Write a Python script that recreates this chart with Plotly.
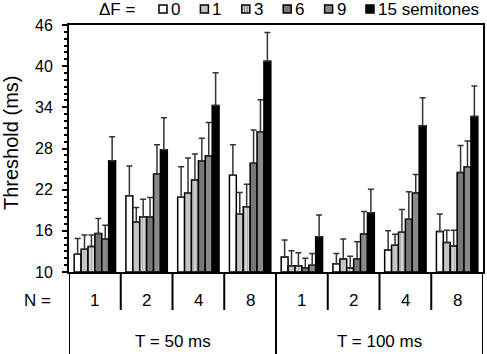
import plotly.graph_objects as go

# ---------------- data ----------------
n_labels = ["1", "2", "4", "8", "1", "2", "4", "8"]
t_labels = ["T = 50 ms", "T = 100 ms"]
series_names = ["0", "1", "3", "6", "9", "15 semitones"]

df0 = [12.6, 21.1, 20.9, 24.1, 12.2, 11.2, 13.2, 15.9]
df1 = [13.3, 17.3, 21.5, 18.4, 10.9, 11.9, 13.9, 14.3]
df3 = [13.7, 18.05, 23.4, 19.5, 10.9, 10.6, 15.8, 13.8]
df6 = [15.6, 18.0, 26.2, 25.85, 10.6, 11.9, 17.7, 24.5]
df9 = [14.8, 24.3, 26.95, 30.45, 11.0, 15.55, 21.5, 25.35]
df15 = [26.2, 27.8, 34.25, 40.7, 15.15, 18.65, 31.3, 32.65]

err0 = [2.3, 4.35, 4.45, 4.45, 2.45, 1.5, 2.8, 2.55]
err1 = [2.1, 2.1, 5.1, 3.2, 2.2, 2.9, 1.6, 1.8]
err3 = [1.7, 2.55, 3.8, 3.3, 1.9, 1.7, 3.3, 2.3]
err6 = [2.2, 2.85, 3.3, 4.85, 1.4, 2.5, 4.0, 3.95]
err9 = [2.0, 4.25, 4.85, 4.65, 1.7, 3.25, 2.7, 3.75]
err15 = [3.5, 4.7, 4.8, 4.2, 3.15, 3.4, 4.1, 4.45]

y_ticks = [10, 16, 22, 28, 34, 40, 46]

# ---------------- styling ----------------
values = [df0, df1, df3, df6, df9, df15]
errors = [err0, err1, err3, err6, err9, err15]
fills = ["#ffffff", "#c4c4c4", "#d2d2d2", "#777777", "#8a8a8a", "#000000"]
patterns = [None, None, "|", None, None, None]

FONT = "Liberation Sans, Arial, sans-serif"
W, H = 487, 354
ML, MR, MT, MB = 69, 4, 25, 82
PW, PH = W - ML - MR, H - MT - MB


def px_x(px):
    return (px - ML) / PW


def px_y(py):
    return (H - MB - py) / PH


def txt(text, x, y, xref="paper", size=17, xanchor="center", angle=0):
    return dict(text=text, xref=xref, yref="paper", x=x, y=y,
                xanchor=xanchor, yanchor="middle", textangle=angle,
                showarrow=False, borderpad=0,
                font=dict(size=size, family=FONT, color="black"))


xpos = list(range(len(n_labels)))

fig = go.Figure()
for name, vals, errs, col, pat in zip(series_names, values, errors, fills, patterns):
    marker = dict(color=col, line=dict(color="black", width=1.5))
    if pat:
        marker["pattern"] = dict(shape=pat, fgcolor="#8a8a8a", bgcolor=col,
                                 size=3, solidity=0.35)
    fig.add_trace(go.Bar(
        x=xpos, y=[v - 10 for v in vals], base=10, name=name,
        marker=marker, showlegend=False,
        error_y=dict(type="data", symmetric=False, array=errs,
                     arrayminus=[0] * len(errs), color="#333333",
                     thickness=1.5, width=3),
    ))

shapes = []
annotations = []

# group separators under the axis
for i in range(len(n_labels) + 1):
    xb = i - 0.5
    long_line = (i % 4 == 0)
    shapes.append(dict(type="line", xref="x", yref="paper",
                       x0=xb, x1=xb, y0=0,
                       y1=px_y(356) if long_line else px_y(310),
                       line=dict(color="black", width=2)))

# N labels
annotations.append(txt("N =", px_x(37), px_y(300)))
for i, lab in enumerate(n_labels):
    annotations.append(txt(lab, i, px_y(300), xref="x"))
for j, lab in enumerate(t_labels):
    annotations.append(txt(lab, 1.5 + 4 * j, px_y(341), xref="x"))

# y title
annotations.append(txt("Threshold (ms)", px_x(11), px_y(143), size=20, angle=-90))

# manual legend
annotations.append(txt("ΔF =", px_x(117), px_y(9)))
sq = 8
for k, (name, col) in enumerate(zip(series_names, fills)):
    x0 = 159 + 41.4 * k
    shapes.append(dict(type="rect", xref="paper", yref="paper",
                       x0=px_x(x0), x1=px_x(x0 + sq), y0=px_y(13), y1=px_y(5),
                       fillcolor=col, line=dict(color="black", width=1.5)))
    if patterns[k]:
        for dx in (2.7, 5.3):
            shapes.append(dict(type="line", xref="paper", yref="paper",
                               x0=px_x(x0 + dx), x1=px_x(x0 + dx),
                               y0=px_y(12), y1=px_y(6),
                               line=dict(color="#7a7a7a", width=1)))
    annotations.append(txt(name, px_x(x0 + sq + 3), px_y(9), xanchor="left"))

fig.update_layout(
    width=W, height=H,
    margin=dict(l=ML, r=MR, t=MT, b=MB, autoexpand=False),
    paper_bgcolor="white", plot_bgcolor="white",
    barmode="group", bargap=0.2, bargroupgap=0,
    font=dict(family=FONT, size=17, color="black"),
    shapes=shapes, annotations=annotations,
    xaxis=dict(range=[-0.5, len(n_labels) - 0.5], showticklabels=False,
               ticks="", showgrid=False, zeroline=False, automargin=False,
               showline=True, linecolor="black", linewidth=2, mirror=True),
    yaxis=dict(range=[10, 46], tickvals=y_ticks, ticks="outside", ticklen=5,
               tickwidth=2, tickcolor="black", showgrid=False, zeroline=False,
               showline=True, linecolor="black", linewidth=2, mirror=True,
               ticklabelstandoff=6, automargin=False,
               tickfont=dict(size=16, family=FONT, color="black"),
               minor=dict(dtick=1, ticks="outside", ticklen=3, tickwidth=1.5,
                          tickcolor="black", showgrid=False)),
)

fig.write_html("out.html", config={"displayModeBar": False},
               post_script="document.body.style.margin='0';")
